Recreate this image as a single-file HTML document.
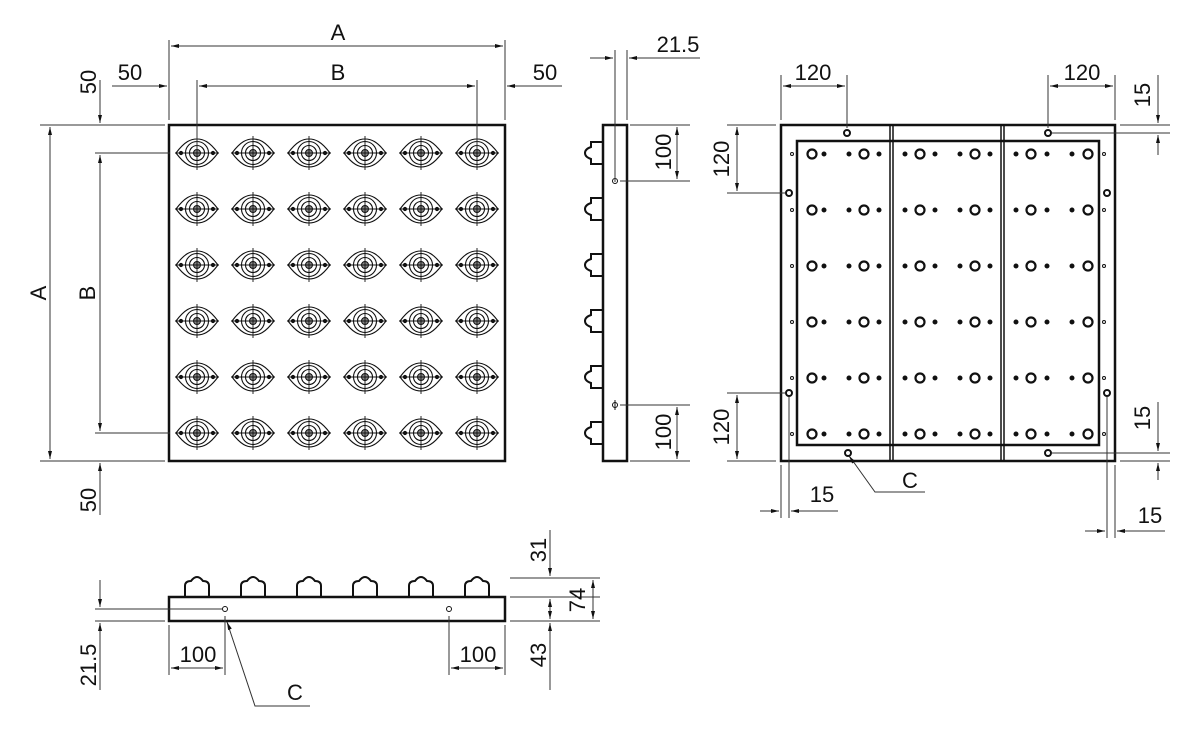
<!DOCTYPE html>
<html><head><meta charset="utf-8"><style>
html,body{margin:0;padding:0;background:#fff}
svg{display:block}
text{font-family:"Liberation Sans",sans-serif;font-size:22px;fill:#111}
</style></head><body>
<svg id="s" width="1200" height="730" viewBox="0 0 1200 730" xmlns="http://www.w3.org/2000/svg">
<defs>
<marker id="ar" viewBox="0 0 10 10" refX="10" refY="5" markerWidth="8" markerHeight="8" orient="auto-start-reverse"><path d="M0,2.5 L10,5 L0,7.5 Z" fill="#111"/></marker>
</defs>
<g fill="none" stroke="#111">
<rect x="169" y="125" width="336" height="336" stroke-width="2.5"/>
<rect x="603" y="125" width="24" height="336" stroke-width="2.5"/>
<rect x="169" y="597" width="336" height="24" stroke-width="2.5"/>
<rect x="781" y="125" width="334" height="336" stroke-width="2.5"/>
<rect x="797" y="141" width="302" height="304" stroke-width="2.5"/>
<line x1="890" y1="125" x2="890" y2="461" stroke-width="1.5"/>
<line x1="893" y1="125" x2="893" y2="461" stroke-width="1.5"/>
<line x1="1001" y1="125" x2="1001" y2="461" stroke-width="1.5"/>
<line x1="1004" y1="125" x2="1004" y2="461" stroke-width="1.5"/>
</g>
<g id="g" fill="none" stroke="#111"></g>
<g fill="none" stroke="#333" stroke-width="1">
<line x1="169" y1="40" x2="169" y2="120"/><line x1="505" y1="40" x2="505" y2="120"/>
<line x1="171" y1="46" x2="503" y2="46" marker-start="url(#ar)" marker-end="url(#ar)"/>
<line x1="197" y1="80" x2="197" y2="150"/><line x1="477" y1="80" x2="477" y2="150"/>
<line x1="199" y1="86" x2="475" y2="86" marker-start="url(#ar)" marker-end="url(#ar)"/>
<line x1="112" y1="86" x2="167" y2="86" marker-end="url(#ar)"/>
<line x1="507" y1="86" x2="562" y2="86" marker-start="url(#ar)"/>
<line x1="40" y1="125" x2="165" y2="125"/><line x1="40" y1="461" x2="165" y2="461"/>
<line x1="50" y1="127" x2="50" y2="459" marker-start="url(#ar)" marker-end="url(#ar)"/>
<line x1="95" y1="153" x2="170" y2="153"/><line x1="95" y1="433" x2="170" y2="433"/>
<line x1="100" y1="155" x2="100" y2="431" marker-start="url(#ar)" marker-end="url(#ar)"/>
<line x1="100" y1="80" x2="100" y2="123" marker-end="url(#ar)"/>
<line x1="100" y1="463" x2="100" y2="515" marker-start="url(#ar)"/>
<line x1="615" y1="50" x2="615" y2="182"/><line x1="627" y1="50" x2="627" y2="120"/>
<line x1="590" y1="58" x2="613" y2="58" marker-end="url(#ar)"/>
<line x1="629" y1="58" x2="700" y2="58" marker-start="url(#ar)"/>
<line x1="630" y1="125" x2="690" y2="125"/><line x1="620" y1="181" x2="690" y2="181"/>
<line x1="677" y1="127" x2="677" y2="179" marker-start="url(#ar)" marker-end="url(#ar)"/>
<line x1="620" y1="405" x2="690" y2="405"/><line x1="630" y1="461" x2="690" y2="461"/>
<line x1="677" y1="407" x2="677" y2="459" marker-start="url(#ar)" marker-end="url(#ar)"/>
<line x1="781" y1="75" x2="781" y2="120"/><line x1="847" y1="75" x2="847" y2="128"/>
<line x1="783" y1="86" x2="845" y2="86" marker-start="url(#ar)" marker-end="url(#ar)"/>
<line x1="1048" y1="75" x2="1048" y2="128"/><line x1="1115" y1="75" x2="1115" y2="120"/>
<line x1="1050" y1="86" x2="1113" y2="86" marker-start="url(#ar)" marker-end="url(#ar)"/>
<line x1="727" y1="125" x2="776" y2="125"/><line x1="727" y1="193" x2="785" y2="193"/>
<line x1="737" y1="127" x2="737" y2="191" marker-start="url(#ar)" marker-end="url(#ar)"/>
<line x1="727" y1="393" x2="785" y2="393"/><line x1="727" y1="461" x2="776" y2="461"/>
<line x1="737" y1="395" x2="737" y2="459" marker-start="url(#ar)" marker-end="url(#ar)"/>
<line x1="1052" y1="133" x2="1170" y2="133"/><line x1="1120" y1="125" x2="1170" y2="125"/>
<line x1="1158" y1="75" x2="1158" y2="123" marker-end="url(#ar)"/>
<line x1="1158" y1="135" x2="1158" y2="155" marker-start="url(#ar)"/>
<line x1="1052" y1="453" x2="1170" y2="453"/><line x1="1120" y1="461" x2="1170" y2="461"/>
<line x1="1158" y1="402" x2="1158" y2="451" marker-end="url(#ar)"/>
<line x1="1158" y1="463" x2="1158" y2="480" marker-start="url(#ar)"/>
<line x1="781" y1="465" x2="781" y2="518"/><line x1="789" y1="397" x2="789" y2="518"/>
<line x1="760" y1="511" x2="779" y2="511" marker-end="url(#ar)"/>
<line x1="791" y1="511" x2="838" y2="511" marker-start="url(#ar)"/>
<line x1="1107" y1="397" x2="1107" y2="538"/><line x1="1115" y1="465" x2="1115" y2="538"/>
<line x1="1085" y1="531" x2="1105" y2="531" marker-end="url(#ar)"/>
<line x1="1117" y1="531" x2="1165" y2="531" marker-start="url(#ar)"/>
<polyline points="925,492 875,492 850,457" />
<line x1="852" y1="460" x2="849" y2="456" marker-end="url(#ar)"/>
<line x1="510" y1="578" x2="600" y2="578"/><line x1="510" y1="597" x2="600" y2="597"/><line x1="510" y1="621" x2="600" y2="621"/>
<line x1="550" y1="530" x2="550" y2="576" marker-end="url(#ar)"/>
<line x1="550" y1="599" x2="550" y2="619" marker-start="url(#ar)" marker-end="url(#ar)"/>
<line x1="550" y1="623" x2="550" y2="690" marker-start="url(#ar)"/>
<line x1="593" y1="580" x2="593" y2="619" marker-start="url(#ar)" marker-end="url(#ar)"/>
<line x1="95" y1="609" x2="222" y2="609"/><line x1="95" y1="621" x2="165" y2="621"/>
<line x1="100" y1="580" x2="100" y2="607" marker-end="url(#ar)"/>
<line x1="100" y1="623" x2="100" y2="690" marker-start="url(#ar)"/>
<line x1="169" y1="625" x2="169" y2="675"/><line x1="225" y1="616" x2="225" y2="675"/>
<line x1="171" y1="668" x2="223" y2="668" marker-start="url(#ar)" marker-end="url(#ar)"/>
<line x1="449" y1="616" x2="449" y2="675"/><line x1="505" y1="625" x2="505" y2="675"/>
<line x1="451" y1="668" x2="503" y2="668" marker-start="url(#ar)" marker-end="url(#ar)"/>
<polyline points="310,706 255,706 227,622"/>
<line x1="229" y1="627" x2="227" y2="622" marker-end="url(#ar)"/>
</g>
<text x="338" y="40" text-anchor="middle">A</text>
<text x="338" y="80" text-anchor="middle">B</text>
<text x="130" y="80" text-anchor="middle">50</text>
<text x="545" y="80" text-anchor="middle">50</text>
<text transform="translate(46,293) rotate(-90)" text-anchor="middle">A</text>
<text transform="translate(95,293) rotate(-90)" text-anchor="middle">B</text>
<text transform="translate(96,82) rotate(-90)" text-anchor="middle">50</text>
<text transform="translate(96,500) rotate(-90)" text-anchor="middle">50</text>
<text x="678" y="52" text-anchor="middle">21.5</text>
<text transform="translate(671,152) rotate(-90)" text-anchor="middle">100</text>
<text transform="translate(671,432) rotate(-90)" text-anchor="middle">100</text>
<text x="813" y="80" text-anchor="middle">120</text>
<text x="1082" y="80" text-anchor="middle">120</text>
<text transform="translate(729,159) rotate(-90)" text-anchor="middle">120</text>
<text transform="translate(729,427) rotate(-90)" text-anchor="middle">120</text>
<text transform="translate(1150,95) rotate(-90)" text-anchor="middle">15</text>
<text transform="translate(1150,418) rotate(-90)" text-anchor="middle">15</text>
<text x="822" y="502" text-anchor="middle">15</text>
<text x="1150" y="523" text-anchor="middle">15</text>
<text x="910" y="488" text-anchor="middle">C</text>
<text transform="translate(546,550) rotate(-90)" text-anchor="middle">31</text>
<text transform="translate(585,600) rotate(-90)" text-anchor="middle">74</text>
<text transform="translate(546,655) rotate(-90)" text-anchor="middle">43</text>
<text transform="translate(96,665) rotate(-90)" text-anchor="middle">21.5</text>
<text x="198" y="662" text-anchor="middle">100</text>
<text x="478" y="662" text-anchor="middle">100</text>
<text x="295" y="700" text-anchor="middle">C</text>
</svg>
<script>
var g=document.getElementById('g'),h='';
function L(a,b,c,d,w){h+='<line x1="'+a+'" y1="'+b+'" x2="'+c+'" y2="'+d+'" stroke-width="'+(w||1)+'"/>';}
function C(x,y,r,w,f){h+='<circle cx="'+x+'" cy="'+y+'" r="'+r+'" stroke-width="'+(w||1)+'"'+(f?' fill="'+f+'"':'')+'/>';}
var xs=[197,253,309,365,421,477],ys=[153,209,265,321,377,433];
xs.forEach(function(x){ys.forEach(function(y){
 h+='<path d="M'+(x-21)+','+y+' C'+(x-12)+','+(y-12)+' '+(x-6)+','+(y-14)+' '+x+','+(y-14)+' C'+(x+6)+','+(y-14)+' '+(x+12)+','+(y-12)+' '+(x+21)+','+y+' C'+(x+12)+','+(y+12)+' '+(x+6)+','+(y+14)+' '+x+','+(y+14)+' C'+(x-6)+','+(y+14)+' '+(x-12)+','+(y+12)+' '+(x-21)+','+y+' Z" stroke-width="1.1"/>';
 C(x,y,11.5,1.1);C(x,y,7.5,1.1);C(x,y,3.5,1,'#888');C(x-16,y,1.6,1,'#111');C(x+16,y,1.6,1,'#111');
 L(x,y-17,x,y+17,0.9);L(x-22,y,x+22,y,0.9);
});});
ys.forEach(function(y){h+='<path d="M603,'+(y-11)+' H591 V'+(y-6)+' Q585,'+(y-4)+' 585,'+y+' Q585,'+(y+4)+' 591,'+(y+6)+' V'+(y+11)+' H603" stroke-width="2"/>';});
C(615,181,2.5,1);C(615,405,2.5,1);L(615,400,615,410);
xs.forEach(function(x){h+='<path d="M'+(x-12)+',597 V586 Q'+(x-12)+',581 '+(x-6)+',581 Q'+(x-3)+',577 '+x+',577 Q'+(x+3)+',577 '+(x+6)+',581 Q'+(x+12)+',581 '+(x+12)+',586 V597" stroke-width="2"/>';});
C(225,609,2.5,1);C(449,609,2.5,1);
var cols=[[812,'b'],[824,'d'],[849,'d'],[864,'b'],[879,'d'],[905,'d'],[920,'b'],[935,'d'],[960,'d'],[975,'b'],[990,'d'],[1016,'d'],[1031,'b'],[1047,'d'],[1072,'d'],[1088,'b']];
ys.forEach(function(y0){var y=y0+1;cols.forEach(function(c){if(c[1]=='b')C(c[0],y,4.5,2.2);else C(c[0],y,2,1,'#111');});C(792,y,1.5,1);C(1104,y,1.5,1);});
[[847,133],[1048,133],[789,193],[1107,193],[789,393],[1107,393],[848,453],[1048,453]].forEach(function(p){C(p[0],p[1],3,2);});
g.innerHTML=h;
</script>
</body></html>
